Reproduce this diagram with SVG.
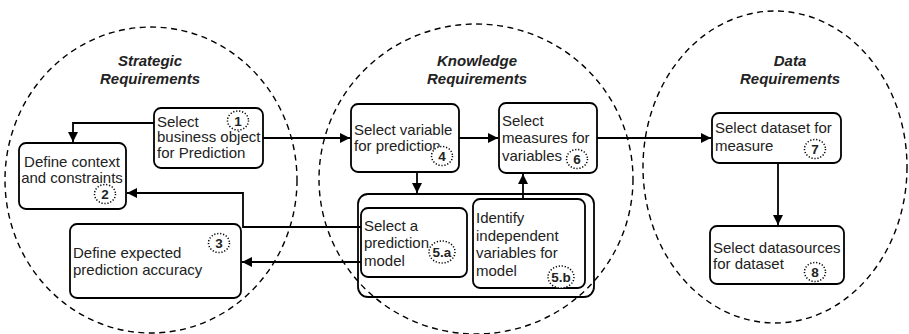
<svg xmlns="http://www.w3.org/2000/svg" width="909" height="334" viewBox="0 0 909 334">
<defs>
<style>
.area{fill:none;stroke:#000;stroke-width:1.4;stroke-dasharray:6 4.5}
.box{fill:#fff;stroke:#000;stroke-width:1.8}
.grp{fill:none;stroke:#000;stroke-width:1.8}
.num{fill:#fff;stroke:#000;stroke-width:1.5;stroke-dasharray:1.2 1.8}
.t{font-family:"Liberation Sans",Arial,sans-serif;font-size:15px;fill:#222}
.n{font-family:"Liberation Sans",Arial,sans-serif;font-size:13.5px;font-weight:bold;fill:#222;text-anchor:middle}
.h{font-family:"Liberation Sans",Arial,sans-serif;font-size:15px;font-weight:bold;font-style:italic;fill:#222;text-anchor:middle}
.c{fill:none;stroke:#000;stroke-width:1.8}
</style>
<marker id="ah" viewBox="0 0 10 10" refX="10" refY="5" markerWidth="10" markerHeight="10" markerUnits="userSpaceOnUse" orient="auto">
<path d="M0,0 L10,5 L0,10 z" fill="#000"/>
</marker>
</defs>
<rect width="909" height="334" fill="#fff"/>

<g id="areas">
<ellipse class="area" cx="151" cy="180" rx="146" ry="153"/>
<ellipse class="area" cx="476" cy="179" rx="157" ry="155"/>
<ellipse class="area" cx="775" cy="167" rx="132" ry="156"/>
<text class="h" x="150" y="66">Strategic</text>
<text class="h" x="150" y="84">Requirements</text>
<text class="h" x="477" y="66">Knowledge</text>
<text class="h" x="477" y="84">Requirements</text>
<text class="h" x="790" y="66">Data</text>
<text class="h" x="790" y="84">Requirements</text>
</g>

<g id="connectors">
<path class="c" d="M154,123 H73 V142" marker-end="url(#ah)"/>
<path class="c" d="M263,138 H350" marker-end="url(#ah)"/>
<path class="c" d="M459,138 H498" marker-end="url(#ah)"/>
<path class="c" d="M597,138 H711" marker-end="url(#ah)"/>
<path class="c" d="M417,172 V193" marker-end="url(#ah)"/>
<path class="c" d="M523,199 V174" marker-end="url(#ah)"/>
<path class="c" d="M361,227 H243 V193 H127" marker-end="url(#ah)"/>
<path class="c" d="M361,262 H242" marker-end="url(#ah)"/>
<path class="c" d="M778,163 V225" marker-end="url(#ah)"/>
</g>

<g id="node1">
<rect class="box" x="154" y="108" width="109" height="60" rx="7"/>
<text class="t" x="157" y="126.5">Select</text>
<text class="t" x="157" y="142">business object</text>
<text class="t" x="157" y="158">for Prediction</text>
<ellipse class="num" cx="238" cy="120.5" rx="10.5" ry="9.5"/>
<text class="n" x="238" y="125.5">1</text>
</g>

<g id="node2">
<rect class="box" x="19" y="143" width="107" height="66" rx="7"/>
<text class="t" x="72" y="167" text-anchor="middle">Define context</text>
<text class="t" x="72" y="183" text-anchor="middle">and constraints</text>
<ellipse class="num" cx="105" cy="194" rx="10.5" ry="9.5"/>
<text class="n" x="105" y="199">2</text>
</g>

<g id="node3">
<rect class="box" x="70" y="224" width="171" height="74" rx="7"/>
<text class="t" x="73" y="258">Define expected</text>
<text class="t" x="73" y="275">prediction accuracy</text>
<ellipse class="num" cx="219" cy="243" rx="10.5" ry="9.5"/>
<text class="n" x="219" y="248">3</text>
</g>

<g id="node4">
<rect class="box" x="351" y="104" width="108" height="68" rx="7"/>
<text class="t" x="354" y="135">Select variable</text>
<text class="t" x="354" y="151">for prediction</text>
<ellipse class="num" cx="442" cy="156" rx="10.5" ry="9.5"/>
<text class="n" x="442" y="161">4</text>
</g>

<g id="node6">
<rect class="box" x="499" y="103" width="98" height="70" rx="7"/>
<text class="t" x="502" y="126">Select</text>
<text class="t" x="502" y="143">measures for</text>
<text class="t" x="502" y="161">variables</text>
<ellipse class="num" cx="577" cy="159" rx="10.5" ry="9.5"/>
<text class="n" x="577" y="164">6</text>
</g>

<g id="node5">
<rect class="grp" x="358" y="194" width="236" height="103" rx="10"/>
</g>

<g id="node5a">
<rect class="box" x="361" y="208" width="106" height="69" rx="7"/>
<text class="t" x="364" y="231">Select a</text>
<text class="t" x="364" y="248">prediction</text>
<text class="t" x="364" y="266">model</text>
<ellipse class="num" cx="442" cy="252" rx="13" ry="11"/>
<text class="n" x="442" y="257">5.a</text>
</g>

<g id="node5b">
<rect class="box" x="473" y="199" width="112" height="89" rx="7"/>
<text class="t" x="476" y="223">Identify</text>
<text class="t" x="476" y="241">independent</text>
<text class="t" x="476" y="258">variables for</text>
<text class="t" x="476" y="276">model</text>
<ellipse class="num" cx="561" cy="277" rx="13" ry="11"/>
<text class="n" x="561" y="282">5.b</text>
</g>

<g id="node7">
<rect class="box" x="712" y="113" width="129" height="50" rx="7"/>
<text class="t" x="715" y="133">Select dataset for</text>
<text class="t" x="715" y="151">measure</text>
<ellipse class="num" cx="815" cy="149" rx="10.5" ry="9.5"/>
<text class="n" x="815" y="154">7</text>
</g>

<g id="node8">
<rect class="box" x="710" y="226" width="134" height="58" rx="7"/>
<text class="t" x="713" y="253">Select datasources</text>
<text class="t" x="713" y="269">for dataset</text>
<ellipse class="num" cx="815" cy="272" rx="10.5" ry="9.5"/>
<text class="n" x="815" y="277">8</text>
</g>
</svg>
